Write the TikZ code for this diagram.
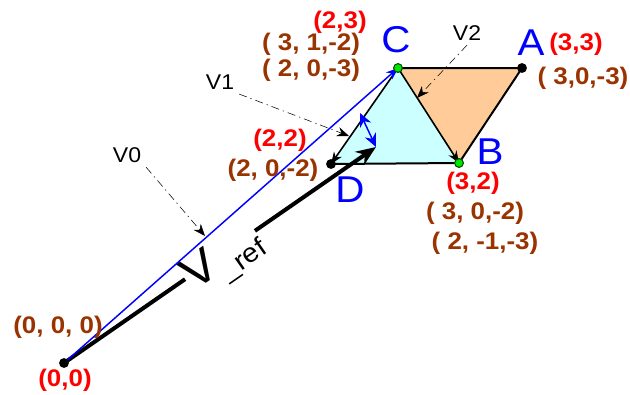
\documentclass[tikz,border=0pt]{standalone}
\usepackage{fontspec}
\setmainfont{Liberation Sans}
\usetikzlibrary{arrows.meta}
\definecolor{xyzbrown}{RGB}{153,51,0}
\definecolor{cyanfill}{RGB}{204,255,255}
\definecolor{orangefill}{RGB}{255,204,153}
\definecolor{dotgreen}{RGB}{0,230,0}

\begin{document}
\begin{tikzpicture}[x=0.75pt,y=-0.75pt,>={Stealth[length=9pt,width=7pt]},
  every node/.append style={xscale=1.08},
  vtx/.style={text=blue,font=\fontsize{28}{28}\selectfont},
  uv/.style={text=red,font=\bfseries\fontsize{18}{18}\selectfont},
  xyz/.style={text=xyzbrown,font=\bfseries\fontsize{18}{18}\selectfont},
  lbl/.style={font=\fontsize{16}{16}\selectfont},
  ptr/.style={->,thin,dash pattern=on 6pt off 3pt on 1pt off 3pt}]
  \useasboundingbox (0,0) rectangle (630,394);
  \coordinate (O) at (64,363);
  \coordinate (C) at (398,68);
  \coordinate (A) at (522,68);
  \coordinate (B) at (459,163);
  \coordinate (D) at (331,164);
  \coordinate (P) at (376,147);
  \coordinate (Q) at (360,113);
  % triangles
  \fill[cyanfill] (C) -- (D) -- (B) -- cycle;
  \fill[orangefill] (C) -- (A) -- (B) -- cycle;
  \draw[line width=1.5pt] (D) -- (B);
  \draw[line width=1.5pt] (C) -- (A) -- (B);
  \draw[line width=1.2pt,->] (C) -- (B);
  \draw[line width=1.2pt,->] (C) -- (D);
  % reference vector
  \draw[line width=3pt,-{Stealth[length=15pt,width=12pt]}] (O) -- (P)
    node[pos=0.5,sloped,fill=white,inner sep=0.5pt] (vref)
    {{\fontsize{35}{35}\selectfont V}{\fontsize{20}{20}\selectfont\raisebox{-7pt}[0pt][0pt]{\_ref}}};
  \draw[blue,line width=1.1pt,->] (O) -- (C);
  \draw[blue,line width=1.1pt,{Stealth[length=10pt,width=9pt]}-{Stealth[length=10pt,width=9pt]}] (Q) -- (P);
  % vertices
  \fill (O) circle (3.7pt);
  \fill (A) circle (3.7pt);
  \fill (D) circle (3.7pt);
  \filldraw[fill=dotgreen,draw=black!70!green,thick] (C) circle (3.3pt);
  \filldraw[fill=dotgreen,draw=black!70!green,thick] (B) circle (3.3pt);
  % labels
  \node[vtx] (labC) at (396,40) {C};
  \node[vtx] (labA) at (531,43) {A};
  \node[vtx] (labB) at (490,152) {B};
  \node[vtx] (labD) at (350,190) {D};
  \node[uv] (uvC) at (340,22) {(2,3)};
  \node[uv] (uvA) at (576,44) {(3,3)};
  \node[uv] (uvB) at (473,183) {(3,2)};
  \node[uv] (uvD) at (280,140) {(2,2)};
  \node[uv] (uvO) at (65,380) {(0,0)};
  \node[xyz] (xyzC1) at (311,44) {( 3, 1,-2)};
  \node[xyz] (xyzC2) at (311,70) {( 2, 0,-3)};
  \node[xyz] (xyzA) at (583,78) {( 3,0,-3)};
  \node[xyz] (xyzB1) at (475,213) {( 3, 0,-2)};
  \node[xyz] (xyzB2) at (485,243) {( 2, -1,-3)};
  \node[xyz] (xyzD) at (273,170) {(2, 0,-2)};
  \node[xyz] (xyzO) at (58,327) {(0, 0, 0)};
  % pointers
  \node[lbl] (v0) at (127,155) {V0};
  \node[lbl] (v1) at (220,82) {V1};
  \node[lbl] (v2) at (467,33) {V2};
  \coordinate (v0tip) at (205,236);
  \coordinate (v1tip) at (349,136);
  \coordinate (v2tip) at (417,98);
  \draw[ptr] (v0.south east) -- (v0tip);
  \draw[ptr] (v1.south east) -- (v1tip);
  \draw[ptr] (v2.south) -- (v2tip);
\end{tikzpicture}
\end{document}
